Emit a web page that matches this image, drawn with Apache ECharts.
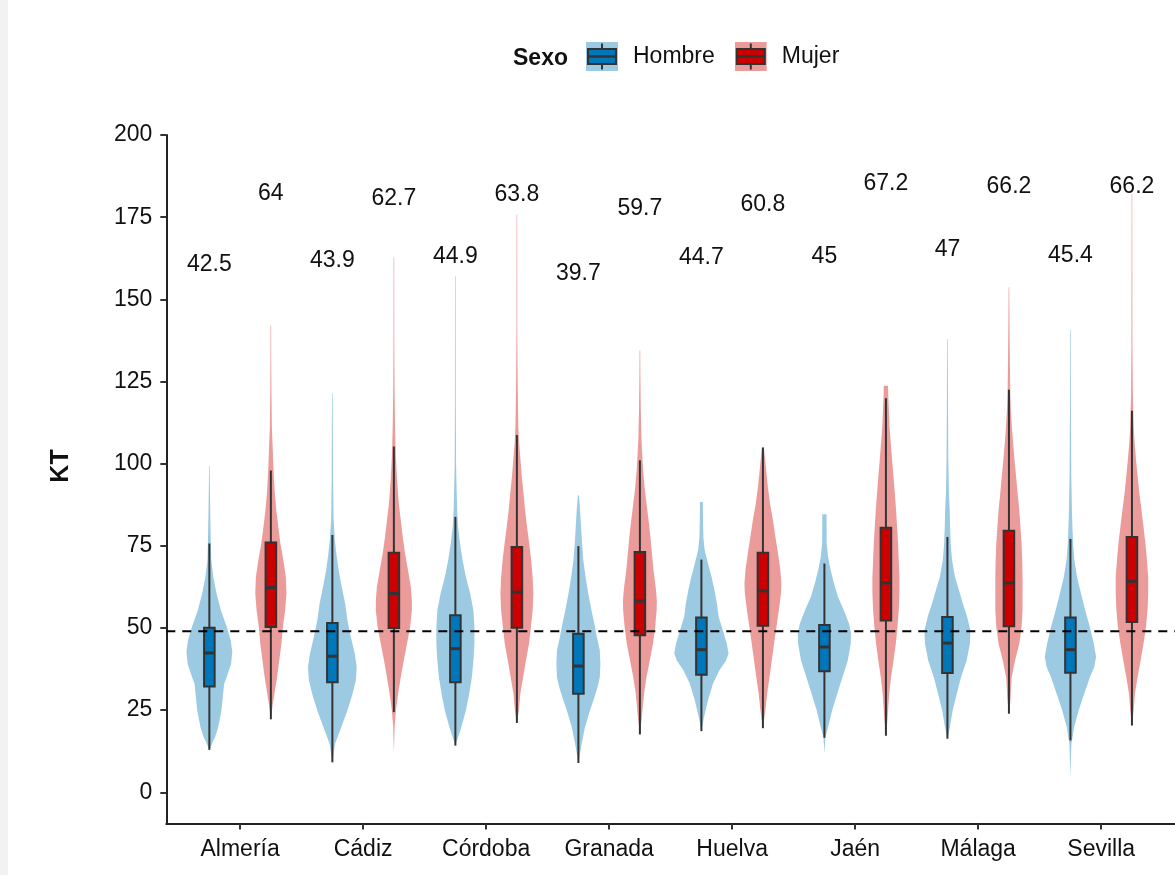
<!DOCTYPE html>
<html><head><meta charset="utf-8">
<script src="https://cdn.jsdelivr.net/npm/echarts@6/dist/echarts.min.js"></script>
<style>html,body{margin:0;padding:0;background:#fff}#c{width:1175px;height:875px}</style>
</head><body><div id="c"></div>
<script>
// ---------- DATA ----------
const provinces = ['Almería','Cádiz','Córdoba','Granada','Huelva','Jaén','Málaga','Sevilla'];
const sexes = ['Hombre','Mujer'];
const yTicks = [0,25,50,75,100,125,150,175,200];
const referenceLine = 49;

// boxplot stats per province: [lower whisker, Q1, median, Q3, upper whisker]
const boxHombre = [
  [12.9,32.2,42.4,50.1,75.7],
  [9.1,33.5,41.4,51.5,78.3],
  [14.2,33.5,43.7,53.9,83.8],
  [8.9,30.0,38.4,48.2,74.9],
  [18.6,35.8,43.4,53.2,70.8],
  [16.6,36.8,44.2,50.9,69.6],
  [16.3,36.3,45.4,53.3,77.7],
  [15.8,36.4,43.4,53.2,77.1]
];
const boxMujer = [
  [22.2,50.3,62.3,76.0,97.9],
  [24.4,50.0,60.5,72.9,105.2],
  [21.1,50.1,60.9,74.6,108.7],
  [17.6,47.8,58.2,73.1,101.0],
  [19.5,50.7,61.3,72.9,104.9],
  [17.2,52.3,63.7,80.5,119.9],
  [23.9,50.5,63.7,79.6,122.5],
  [20.3,51.8,64.2,77.7,116.1]
];
// mean labels
const meanHombre = [42.5,43.9,44.9,39.7,44.7,45,47,45.4];
const meanMujer  = [64,62.7,63.8,59.7,60.8,67.2,66.2,66.2];

// violin density profiles: [KT value, relative density (half-width)]
const violinHombre = [
  [[12.9,0],[14.7,2.5],[16.8,5.8],[19.8,9],[24.9,12.3],[30,14],[33,15],[35,17.5],[39,22],[42.7,23.3],[46.2,21.7],[50.3,17.7],[55.4,11.7],[60.5,7.3],[65.5,4],[70.6,2],[75.7,1.5],[81.8,1.1],[91,0.6],[99.3,0.3]],
  [[9.1,0],[14.7,2.7],[19.8,9],[24.9,15.3],[30,20.5],[34,23.8],[38.1,24.7],[42.2,22.7],[47.3,18.7],[52.3,15.3],[57.4,13],[62.5,9.5],[67.6,6.3],[72.7,4],[77.7,2.3],[83.8,1.2],[96,0.7],[111,0.5],[121.4,0.3]],
  [[14.2,0],[19.8,6],[24.9,10.7],[30,14],[35,16.7],[40.1,18.3],[45.2,19.3],[50.3,19.3],[55.4,18.3],[60.5,15],[65.5,10.7],[70.6,7.3],[75.7,4.7],[80.8,2.7],[85.9,1.8],[94,1.1],[100,0.7],[120,0.4],[157,0.3]],
  [[8.9,0],[14.7,3.3],[19.8,6.7],[24.9,11.7],[28,15.3],[32,19.5],[35,21.7],[39.1,22.3],[43.2,21.7],[47.3,18.7],[51.3,16.2],[55.4,13.3],[60.5,10],[65.5,7.3],[70.6,5],[75.7,3.7],[80.8,2.7],[85.9,1.7],[90.4,0.5]],
  [[18.6,0],[22.9,2.7],[28,6.7],[33,11.7],[37.1,18.3],[40.1,25],[42.2,27.5],[45.2,25.8],[49.3,21.7],[53.4,17.5],[57.4,15.8],[61.5,13.3],[65.5,10.3],[69.6,6.7],[73.7,3.3],[77.7,2],[81.8,1.7],[85.9,1.5],[88.3,1.5]],
  [[11.9,0],[16.8,1],[19.8,3.7],[24.9,7.8],[30,13],[35,18.3],[40.1,23.7],[45.2,26.7],[48.3,27],[51.3,25],[55.4,19.7],[59.5,13.7],[63.5,9.7],[67.6,6.3],[71.7,3.7],[75.7,2.3],[80.8,2.2],[84.6,2.2]],
  [[16.3,0],[19.8,2.5],[24.9,5.3],[30,9.5],[35,13.8],[40.1,19.5],[45.2,22.8],[49.3,23.3],[53.4,20],[57.4,15.7],[61.5,11.7],[65.5,7.7],[70.6,4.7],[75.7,3.3],[80.8,2.7],[85.9,2.3],[91,1.5],[101,0.9],[116.4,0.6],[131.6,0.4],[137.9,0.3]],
  [[4.6,0],[10,0.5],[14.7,1],[19.8,3.7],[24.9,8.3],[30,14],[35,19.7],[38.1,24.2],[41.2,26],[45.2,23.7],[50.3,19.7],[55.4,15],[60.5,10.7],[65.5,6.7],[70.6,4],[75.7,2.7],[80.8,2],[85.9,1.5],[96,0.9],[116.4,0.5],[140.8,0.3]]
];
const violinMujer = [
  [[22.3,0],[26.9,2],[35,6.3],[45.2,10.7],[50.3,12.2],[55.4,14.5],[60.5,15.8],[65.5,15.2],[70.6,12.7],[75.7,9.7],[80.8,7.5],[85.9,5.5],[91,4],[96,3],[101,2.3],[106,1.7],[111,1],[121.4,0.6],[131.6,0.4],[142,0.3]],
  [[11.7,0],[19.8,0.7],[24.9,2],[30,4.3],[35,7],[40.1,10],[45.2,13.3],[50.3,16.5],[55.4,18.3],[58.4,18.3],[62.5,17.2],[67.6,14.3],[72.7,11.3],[77.7,9],[82.8,7],[87.9,5],[93,3.7],[98,2.7],[104,1.8],[111,1.2],[121.4,0.7],[136.7,0.4],[162.8,0.3]],
  [[21.1,0],[24.9,2],[30,3.5],[35,6.3],[40.1,9.2],[45.2,12.3],[50.3,14.2],[55.4,16],[60.5,16.7],[65.5,16],[70.6,14.5],[75.7,12.5],[80.8,10.3],[85.9,8.3],[91,6.7],[96,5],[101,3.7],[106,2.3],[111,1.5],[121.4,0.9],[131.6,0.6],[141.8,0.4],[175.8,0.3]],
  [[17.6,0],[22.9,2],[30,4.2],[35,6.7],[40.1,10],[45.2,13.3],[50.3,15.5],[55.4,17],[58.4,17.2],[62.5,16],[67.6,13.8],[72.7,12.2],[77.7,10.7],[82.8,8.8],[87.9,6.7],[93,4.7],[98,3.3],[103,2.3],[108,1.5],[116.4,0.9],[126.5,0.5],[134.4,0.3]],
  [[19.5,0],[24.9,2.5],[30,4.3],[35,6.7],[40.1,9],[45.2,11.3],[50.3,13.7],[55.4,16.2],[60.5,18.3],[63.5,18.7],[67.6,17.7],[72.7,15.3],[77.7,12.7],[82.8,10.2],[87.9,7.2],[93,5],[98,3.3],[104.9,1]],
  [[17.2,0],[21.8,1.5],[30,3.3],[35,5.2],[40.1,7.7],[45.2,10],[50.3,11.7],[55.4,13],[60.5,13.7],[65.5,13.7],[70.6,13],[75.7,12.3],[80.8,11.3],[85.9,10.3],[91,9],[96,7.7],[101,6.3],[106,5],[111,3.7],[116.4,3],[121.4,2.3],[123.7,2.2]],
  [[23.9,0],[28,1.5],[35,2.8],[40.1,6.2],[45.2,10.5],[50.3,12.8],[55.4,13.8],[60.5,13.8],[65.5,13.8],[70.6,13.5],[75.7,12.8],[80.8,11.7],[85.9,10.5],[91,8.8],[96,7.3],[101,5.7],[106,4.3],[111,3],[116.4,2],[121.4,1.4],[131.6,0.9],[141.8,0.6],[153.7,0.3]],
  [[20.3,0],[24.9,1.7],[30,3],[35,5.7],[40.1,8.8],[45.2,11.7],[50.3,14.2],[55.4,15.8],[60.5,16.5],[65.5,16.5],[70.6,15.2],[75.7,13.7],[80.8,11.7],[85.9,9.7],[91,7.5],[96,5.8],[101,4.2],[106,2.8],[111,1.8],[121.4,0.9],[136.7,0.5],[182,0.3]]
];

// ---------- STYLE / LAYOUT ----------
const FONT = '"Liberation Sans", Arial, Helvetica, sans-serif';
const X_MIN = 0.4, X_MAX = 8.6, Y_MIN = -9.5, Y_MAX = 200;
const DODGE = 0.25;              // category units
const BOX_HALF = 0.043;          // category units
const DENSITY_SCALE = 1 / 124.76; // category units per density unit
const LABEL_OFFSET = 118;        // label placed above mean (KT units)
const palette = {
  Hombre: { violin: '#9dcae3', box: '#0077bb' },
  Mujer:  { violin: '#ec9b9b', box: '#cc0000' }
};

function keyIcon(violinCol, boxCol) {
  const svg = "<svg xmlns='http://www.w3.org/2000/svg' width='32' height='29'>" +
    "<rect width='32' height='29' fill='" + violinCol + "'/>" +
    "<line x1='16' y1='1.5' x2='16' y2='27.5' stroke='#333' stroke-width='2'/>" +
    "<rect x='2' y='7' width='28' height='15' fill='" + boxCol + "' stroke='#333' stroke-width='2'/>" +
    "<line x1='2' y1='14.5' x2='30' y2='14.5' stroke='#333' stroke-width='2.5'/></svg>";
  return 'image://data:image/svg+xml;charset=utf-8,' + encodeURIComponent(svg);
}

function makeSeries(sex, sIdx, stats, means, violins) {
  const col = palette[sex];
  const off = sIdx === 0 ? -DODGE : DODGE;
  return {
    type: 'custom',
    name: sex,
    z: 2,
    silent: true,
    data: provinces.map((p, i) => [i + 1 + off, i, stats[i][2]]),
    encode: { x: 0, y: 2 },
    renderItem(params, api) {
      const cx = api.value(0);
      const i = api.value(1);
      const prof = violins[i];
      const st = stats[i];
      const right = prof.map(([y, w]) => api.coord([cx + w * DENSITY_SCALE, y]));
      const left = prof.slice().reverse().map(([y, w]) => api.coord([cx - w * DENSITY_SCALE, y]));
      const c = (y) => api.coord([cx, y]);
      const hw = api.size([BOX_HALF, 0])[0];
      const [mn, q1, md, q3, mx] = st.map(c);
      const lab = c(means[i] + LABEL_OFFSET);
      return {
        type: 'group',
        children: [
          { type: 'polygon', shape: { points: right.concat(left) }, style: { fill: col.violin } },
          { type: 'line', shape: { x1: mn[0], y1: mn[1], x2: q1[0], y2: q1[1] }, style: { stroke: '#333', lineWidth: 2 } },
          { type: 'line', shape: { x1: q3[0], y1: q3[1], x2: mx[0], y2: mx[1] }, style: { stroke: '#333', lineWidth: 2 } },
          { type: 'rect', shape: { x: q3[0] - hw, y: q3[1], width: 2 * hw, height: q1[1] - q3[1] }, style: { fill: col.box, stroke: '#333', lineWidth: 2 } },
          { type: 'line', shape: { x1: md[0] - hw, y1: md[1], x2: md[0] + hw, y2: md[1] }, style: { stroke: '#333', lineWidth: 3 } },
          { type: 'text', x: lab[0], y: lab[1], style: { text: String(means[i]), fill: '#111', font: '23px ' + FONT, align: 'center', verticalAlign: 'middle' } }
        ]
      };
    }
  };
}

const chart = echarts.init(document.getElementById('c'), null, { renderer: 'canvas' });
const tickIdx = provinces.map((p, i) => i + 1);

chart.setOption({
  animation: false,
  backgroundColor: '#ffffff',
  textStyle: { fontFamily: FONT },
  grid: { left: 166.3, top: 135, width: 1023, bottom: 51.5, containLabel: false },
  legend: {
    data: [
      { name: 'Hombre', icon: keyIcon(palette.Hombre.violin, palette.Hombre.box) },
      { name: 'Mujer', icon: keyIcon(palette.Mujer.violin, palette.Mujer.box) }
    ],
    left: 586, top: 42, padding: 0,
    itemWidth: 32, itemHeight: 29, itemGap: 20,
    selectedMode: false,
    textStyle: { fontSize: 23, color: '#111', fontFamily: FONT, padding: [7, 0, 0, 10] }
  },
  xAxis: {
    type: 'value', min: X_MIN, max: X_MAX,
    splitLine: { show: false },
    axisLine: { show: true, onZero: false, lineStyle: { color: '#222', width: 2 } },
    axisTick: { show: true, customValues: tickIdx, length: 6, lineStyle: { color: '#333', width: 2 } },
    axisLabel: { customValues: tickIdx, formatter: (v) => provinces[Math.round(v) - 1], fontSize: 23, color: '#111', margin: 15, fontFamily: FONT }
  },
  yAxis: {
    type: 'value', min: Y_MIN, max: Y_MAX,
    splitLine: { show: false },
    axisLine: { show: true, onZero: false, lineStyle: { color: '#222', width: 2 } },
    axisTick: { show: true, customValues: yTicks, length: 6, lineStyle: { color: '#333', width: 2 } },
    axisLabel: { customValues: yTicks, fontSize: 23, color: '#111', margin: 14, fontFamily: FONT }
  },
  graphic: [
    { type: 'rect', shape: { x: 0, y: 0, width: 8, height: 875 }, style: { fill: '#f2f2f2' }, z: -10, silent: true },
    { type: 'text', x: 513, y: 59, style: { text: 'Sexo', font: 'bold 23px ' + FONT, fill: '#111', verticalAlign: 'middle' } },
    { type: 'text', x: 61, y: 466, rotation: Math.PI / 2, style: { text: 'KT', font: 'bold 25px ' + FONT, fill: '#111', align: 'center', verticalAlign: 'middle' } }
  ],
  series: [
    makeSeries('Hombre', 0, boxHombre, meanHombre, violinHombre),
    makeSeries('Mujer', 1, boxMujer, meanMujer, violinMujer),
    {
      type: 'line', name: 'ref', silent: true, z: 5,
      data: [[X_MIN, referenceLine], [X_MAX, referenceLine]],
      symbol: 'none',
      lineStyle: { color: '#000', width: 2, type: [9, 7] }
    }
  ]
});
</script>
</body></html>
